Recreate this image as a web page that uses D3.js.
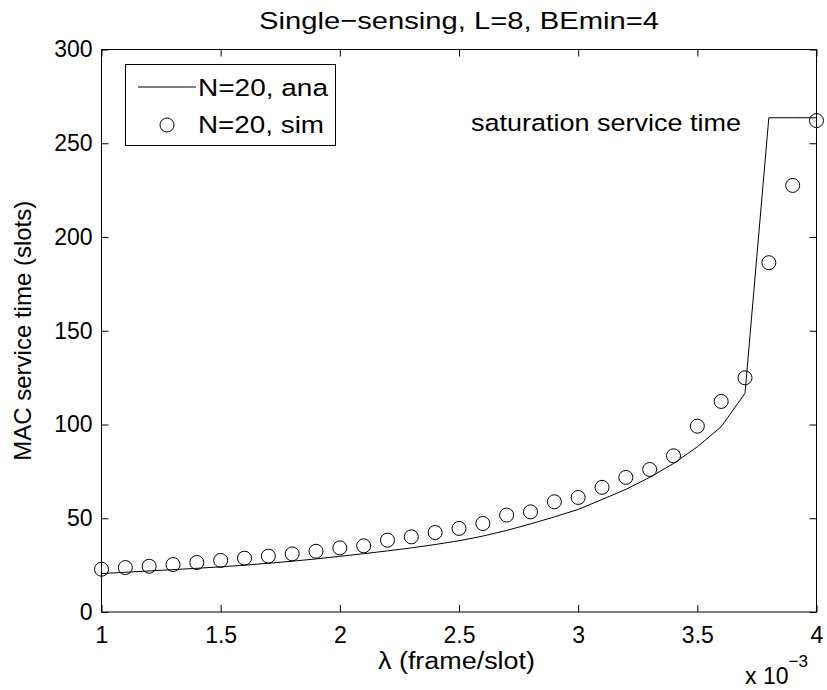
<!DOCTYPE html>
<html>
<head>
<meta charset="utf-8">
<script src="https://cdn.jsdelivr.net/npm/d3@7/dist/d3.min.js"></script>
<style>
  html, body { margin: 0; padding: 0; background: #ffffff; }
  svg { display: block; }
  text { font-family: "Liberation Sans", Arial, Helvetica, sans-serif; fill: #000; }
</style>
</head>
<body>
<svg id="chart" width="827" height="690"></svg>
<script>
// Arrival rate λ, in units of 1e-3 frame/slot
const lambda = [1.0, 1.1, 1.2, 1.3, 1.4, 1.5, 1.6, 1.7, 1.8, 1.9,
                2.0, 2.1, 2.2, 2.3, 2.4, 2.5, 2.6, 2.7, 2.8, 2.9,
                3.0, 3.1, 3.2, 3.3, 3.4, 3.5, 3.6, 3.7, 3.8, 3.9, 4.0];

// Analytical MAC service time, N=20 (slots)
const anaN20 = [20.5, 21.2, 21.9, 22.6, 23.3, 24.1, 25.0, 26.0, 27.1, 28.3,
                29.7, 31.1, 32.6, 34.2, 36.0, 38.0, 40.5, 43.5, 47.0, 50.7,
                54.7, 60.0, 65.4, 71.8, 79.2, 88.1, 98.8, 116.6, 263.6, 263.6, 263.6];

// Simulated MAC service time, N=20 (slots)
const simN20 = [22.8, 23.7, 24.4, 25.3, 26.4, 27.5, 28.7, 29.8, 31.0, 32.4,
                34.2, 35.3, 38.3, 40.1, 42.4, 44.6, 47.2, 51.7, 53.4, 58.8,
                61.1, 66.5, 71.8, 76.0, 83.3, 99.1, 112.3, 124.9, 186.3, 227.5, 262.1];

const xTicks = [1, 1.5, 2, 2.5, 3, 3.5, 4];
const xTickLabels = ["1", "1.5", "2", "2.5", "3", "3.5", "4"];
const yTicks = [0, 50, 100, 150, 200, 250, 300];
const yTickLabels = ["0", "50", "100", "150", "200", "250", "300"];

const seriesNames = ["N=20, ana", "N=20, sim"];

const svg = d3.select("#chart");
const plot = { left: 101.5, right: 816.5, top: 49.5, bottom: 612 };

const x = d3.scaleLinear().domain([1, 4]).range([plot.left, plot.right]);
const y = d3.scaleLinear().domain([0, 300]).range([plot.bottom, plot.top]);

const tickFont = 23;
const labelFont = 24.5;
const tickLen = 7;

// Frame (box around the axes)
svg.append("rect")
  .attr("x", plot.left).attr("y", plot.top)
  .attr("width", plot.right - plot.left).attr("height", plot.bottom - plot.top)
  .attr("fill", "none").attr("stroke", "#000").attr("stroke-width", 1);

// Axes with inward ticks
const xAxisBottom = d3.axisBottom(x).tickValues(xTicks)
  .tickFormat((d, i) => xTickLabels[i]).tickSizeInner(-tickLen).tickSizeOuter(0).tickPadding(14.5);
const xAxisTop = d3.axisTop(x).tickValues(xTicks).tickFormat("").tickSizeInner(-tickLen).tickSizeOuter(0);
const yAxisLeft = d3.axisLeft(y).tickValues(yTicks)
  .tickFormat((d, i) => yTickLabels[i]).tickSizeInner(-tickLen).tickSizeOuter(0).tickPadding(9);
const yAxisRight = d3.axisRight(y).tickValues(yTicks).tickFormat("").tickSizeInner(-tickLen).tickSizeOuter(0);

function styleAxis(g) {
  g.select(".domain").remove();
  g.selectAll(".tick line").attr("stroke", "#000").attr("stroke-width", 1);
  g.selectAll(".tick text")
    .attr("font-size", tickFont)
    .attr("font-family", "Liberation Sans, Arial, sans-serif")
    .attr("fill", "#000");
}

svg.append("g").attr("transform", `translate(0,${plot.bottom})`).call(xAxisBottom).call(styleAxis);
svg.append("g").attr("transform", `translate(0,${plot.top})`).call(xAxisTop).call(styleAxis);
svg.append("g").attr("transform", `translate(${plot.left},0)`).call(yAxisLeft).call(styleAxis);
svg.append("g").attr("transform", `translate(${plot.right},0)`).call(yAxisRight).call(styleAxis);

// Analytical curve
const line = d3.line().x((d, i) => x(lambda[i])).y(d => y(d));
svg.append("path")
  .datum(anaN20)
  .attr("d", line)
  .attr("fill", "none")
  .attr("stroke", "#000")
  .attr("stroke-width", 1);

// Simulation markers
svg.append("g").selectAll("circle")
  .data(simN20)
  .join("circle")
  .attr("cx", (d, i) => x(lambda[i]))
  .attr("cy", d => y(d))
  .attr("r", 7)
  .attr("fill", "none")
  .attr("stroke", "#000")
  .attr("stroke-width", 1);

// Text helper: fixed rendered width so the glyph run spans a set length
function fitText(sel, len) {
  return sel.attr("textLength", len).attr("lengthAdjust", "spacingAndGlyphs");
}

// Annotation for the saturation plateau
fitText(svg.append("text")
  .attr("x", 471).attr("y", 131)
  .attr("font-size", labelFont)
  .text("saturation service time"), 270);

// Title
fitText(svg.append("text")
  .attr("x", 259).attr("y", 29)
  .attr("font-size", labelFont)
  .text("Single\u2212sensing, L=8, BEmin=4"), 400);

// Axis labels
fitText(svg.append("text")
  .attr("x", 378).attr("y", 669)
  .attr("font-size", 23)
  .text("\u03bb (frame/slot)"), 157);

svg.append("text")
  .attr("transform", `translate(31,${(plot.top + plot.bottom) / 2}) rotate(-90)`)
  .attr("text-anchor", "middle")
  .attr("font-size", 24)
  .text("MAC service time (slots)");

// Exponent multiplier for the x axis
const mult = svg.append("text").attr("x", 745).attr("y", 684).attr("font-size", tickFont);
mult.append("tspan").text("x 10");
mult.append("tspan").attr("dy", -17).attr("font-size", 17).text("\u22123");

// Legend
const legend = svg.append("g");
legend.append("rect")
  .attr("x", 125.5).attr("y", 64.5).attr("width", 210).attr("height", 81)
  .attr("fill", "#fff").attr("stroke", "#000").attr("stroke-width", 1);
legend.append("line")
  .attr("x1", 138).attr("x2", 196).attr("y1", 87).attr("y2", 87)
  .attr("stroke", "#000").attr("stroke-width", 1);
legend.append("circle")
  .attr("cx", 167).attr("cy", 125).attr("r", 7)
  .attr("fill", "none").attr("stroke", "#000").attr("stroke-width", 1);
legend.selectAll("text.leg")
  .data(seriesNames)
  .join("text")
  .attr("class", "leg")
  .attr("x", 198)
  .attr("y", (d, i) => 96 + i * 37)
  .attr("font-size", labelFont)
  .attr("textLength", (d, i) => [130, 126][i])
  .attr("lengthAdjust", "spacingAndGlyphs")
  .text(d => d);
</script>
</body>
</html>
